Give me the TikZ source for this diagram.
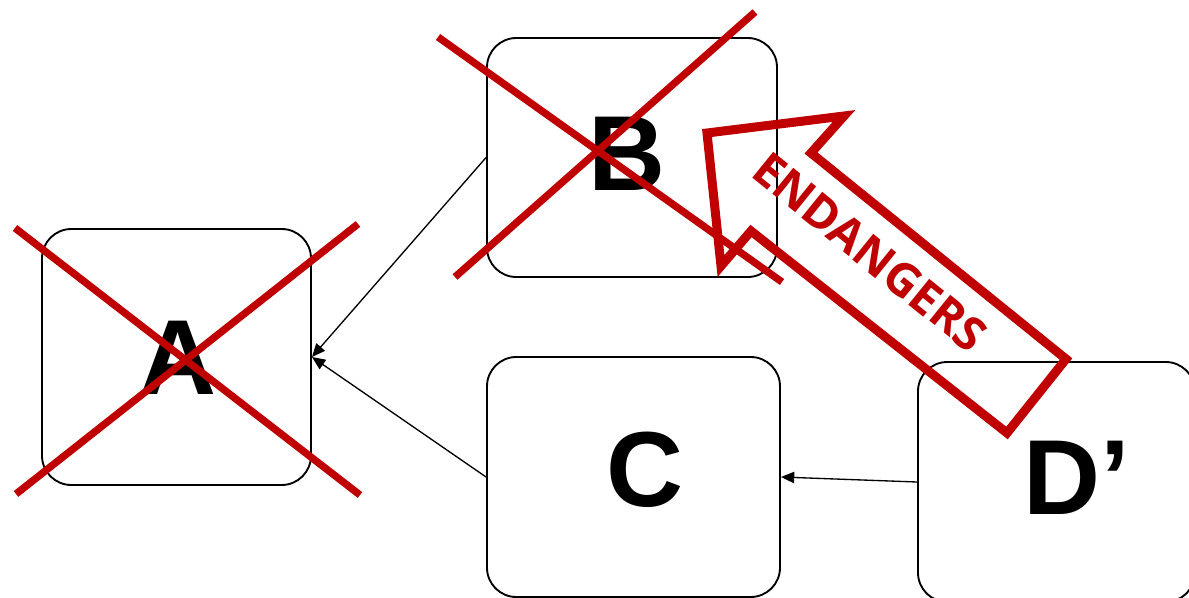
\documentclass[tikz,border=0pt]{standalone}
\usepackage{fontspec}
\setmainfont{Liberation Sans}
\newfontfamily\warnfont{Open Sans}
\usetikzlibrary{arrows.meta}
\definecolor{alarmred}{RGB}{192,0,0}

\begin{document}
\begin{tikzpicture}[x=0.75pt, y=-0.75pt, > = {Triangle[length=10pt,width=8.5pt]},
	box/.style={draw, line width=1.4pt, rounded corners=22pt, inner sep=0pt},
	letter/.style={inner sep=0pt, font=\fontsize{80}{96}\selectfont\bfseries},
	cross/.style={alarmred, line width=5.5pt},
	link/.style={->, line width=1pt}]
	\useasboundingbox (0,0) rectangle (1189,597);
	\clip (0,0) rectangle (1189,597);

	\node[box, minimum width=201.75pt, minimum height=192pt] (A) at (176.5,357) {};
	\node[box, minimum width=217.5pt, minimum height=179.25pt] (B) at (632,157.5) {};
	\node[box, minimum width=219.75pt, minimum height=180pt] (C) at (633.5,477) {};
	\node[box, minimum width=207.75pt, minimum height=180pt] (D) at (1056.5,482) {};

	\node[letter] (A-name) at (178,358) {A};
	\node[letter] (B-name) at (627.5,154) {B};
	\node[letter] (C-name) at (645,470) {C};
	\node[letter] (D-name) at (1077,478) {D’};

	\draw[link] (B.west) -- (A.east);
	\draw[link] (C.west) -- (A.east);
	\draw[link] (D.west) -- (C.east);

	\draw[cross] (15,228) -- (360,495); % A struck out
	\draw[cross] (358,224) -- (16,494);
	\draw[cross] (438,37) -- (782,282); % B struck out
	\draw[cross] (755,12) -- (455,277);

	\draw[alarmred, line width=6.75pt, line join=miter]
		(721,266) -- (707,133) -- (844,116) -- (811,153) -- (1066,359) -- (1007,433) -- (751,231) -- cycle;
	\node[alarmred, rotate=-39, inner sep=0pt, font=\warnfont\bfseries\fontsize{35}{42}\selectfont] (warn) at (870,252) {ENDANGERS};
\end{tikzpicture}
\end{document}
